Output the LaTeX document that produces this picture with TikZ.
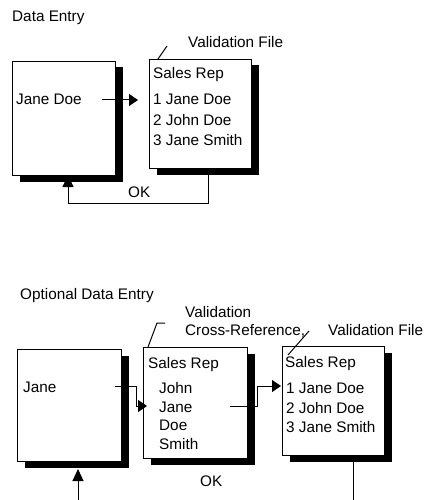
\documentclass[tikz,border=0pt]{standalone}
\usepackage{fontspec}
\setmainfont{Liberation Sans}
\usetikzlibrary{arrows.meta,shadows}
\begin{document}
\begin{tikzpicture}[x=1pt,y=-1pt,
  box/.style={draw=black, line width=1pt, fill=white, anchor=north west, inner sep=0pt,
    drop shadow={shadow xshift=7pt, shadow yshift=-6pt, fill=black, opacity=1}},
  txt/.style={anchor=base west, inner sep=0pt, font=\fontsize{15.3}{18}\selectfont},
  conn/.style={line width=1pt},
  arr/.style={conn, -{Triangle[length=9pt,width=12pt]}},
  uparr/.style={conn, -{Triangle[length=12pt,width=11pt]}}]
\useasboundingbox (0,0) rectangle (425,500);

% ---------- top diagram ----------
\node[txt] (h1) at (12,22) {Data Entry};
\node[box, minimum width=103pt, minimum height=114pt] (b1) at (12,61) {};
\node[box, minimum width=102pt, minimum height=109pt] (b2) at (149,59) {};
\node[txt] (t1) at (16,105) {Jane Doe};
\node[txt] (t2) at (153,79) {Sales Rep};
\node[txt] (t3) at (153,105) {1 Jane Doe};
\node[txt] (t4) at (153,125) {2 John Doe};
\node[txt] (t5) at (153,145) {3 Jane Smith};
\node[txt] (l1) at (188,48) {Validation File};
\node[txt] (ok1) at (128,197) {OK};

\coordinate (p1) at (102,100);
\coordinate (p2) at (138,100);
\draw[arr] (p1) -- (p2);
\coordinate (lv1) at (158,59);
\coordinate (lv2) at (167,46);
\draw[conn] (lv1) -- (lv2);
\coordinate (q1) at (208,168);
\coordinate (q2) at (208,203);
\coordinate (q3) at (68,203);
\coordinate (q4) at (68,175);
\draw[uparr] (q1) -- (q2) -- (q3) -- (q4);

% ---------- bottom diagram ----------
\node[txt] (h2) at (20,299) {Optional Data Entry};
\node[box, minimum width=104pt, minimum height=112pt] (bA) at (17,349) {};
\node[box, minimum width=104pt, minimum height=111pt] (bB) at (143,347) {};
\node[box, minimum width=102pt, minimum height=109pt] (bC) at (282,346) {};
\node[txt] (a1) at (23,392) {Jane};
\node[txt] (c1) at (148,368) {Sales Rep};
\node[txt] (c2) at (159,393) {John};
\node[txt] (c3) at (159,412) {Jane};
\node[txt] (c4) at (159,430) {Doe};
\node[txt] (c5) at (159,449) {Smith};
\node[txt] (v1) at (285,367) {Sales Rep};
\node[txt] (v2) at (286,393) {1 Jane Doe};
\node[txt] (v3) at (286,413) {2 John Doe};
\node[txt] (v4) at (286,432) {3 Jane Smith};
\node[txt] (l2) at (185,317) {Validation};
\node[txt] (l3) at (185,335) {Cross-Reference,};
\node[txt] (l4) at (328,335) {Validation File};
\node[txt] (ok2) at (200,486) {OK};

\coordinate (x1) at (148,347);
\coordinate (x2) at (157,323);
\coordinate (x3) at (165,323);
\draw[conn] (x1) -- (x2) -- (x3);
\coordinate (y1) at (309,331);
\coordinate (y2) at (288,355);
\draw[conn] (y1) -- (y2);

\coordinate (r1) at (115,386);
\coordinate (r2) at (136,386);
\coordinate (r3) at (136,406);
\coordinate (r4) at (147,406);
\draw[arr] (r1) -- (r2) -- (r3) -- (r4);
\coordinate (s1) at (230,406);
\coordinate (s2) at (257,406);
\coordinate (s3) at (257,386);
\coordinate (s4) at (281,386);
\draw[arr] (s1) -- (s2) -- (s3) -- (s4);

\coordinate (u1) at (78,500);
\coordinate (u2) at (78,469);
\draw[uparr] (u1) -- (u2);
\coordinate (d1) at (353,455);
\coordinate (d2) at (353,500);
\draw[conn] (d1) -- (d2);
\end{tikzpicture}
\end{document}
